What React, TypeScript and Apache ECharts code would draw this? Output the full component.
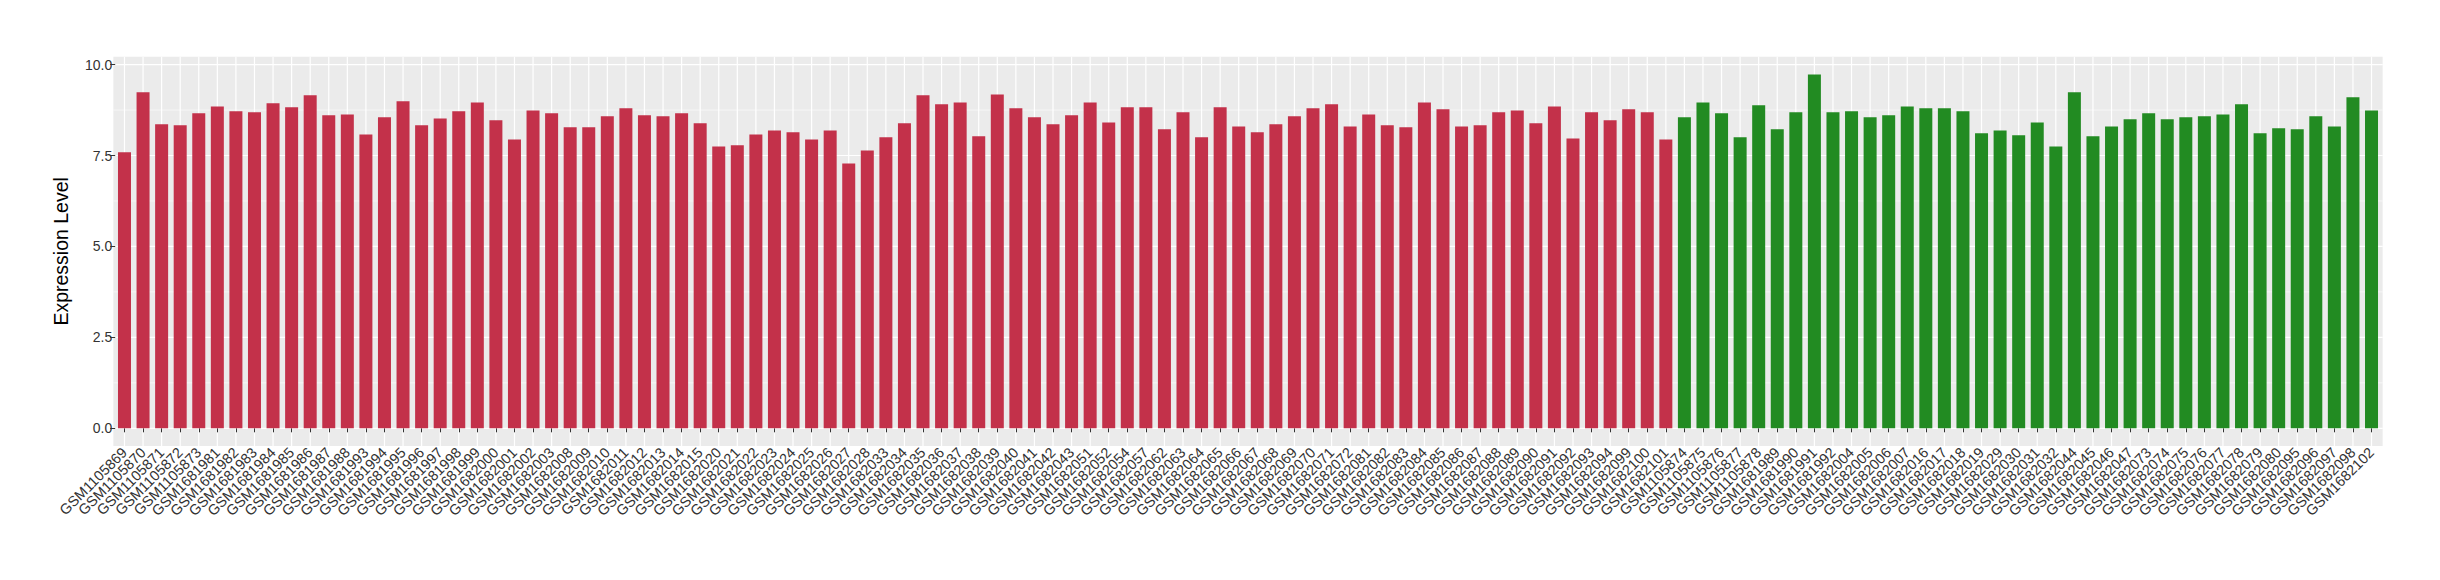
import React, { useEffect, useRef } from "react";
import * as echarts from "echarts";

const redSamples = [
  "GSM1105869","GSM1105870","GSM1105871","GSM1105872","GSM1105873","GSM1681981","GSM1681982","GSM1681983","GSM1681984","GSM1681985",
  "GSM1681986","GSM1681987","GSM1681988","GSM1681993","GSM1681994","GSM1681995","GSM1681996","GSM1681997","GSM1681998","GSM1681999",
  "GSM1682000","GSM1682001","GSM1682002","GSM1682003","GSM1682008","GSM1682009","GSM1682010","GSM1682011","GSM1682012","GSM1682013",
  "GSM1682014","GSM1682015","GSM1682020","GSM1682021","GSM1682022","GSM1682023","GSM1682024","GSM1682025","GSM1682026","GSM1682027",
  "GSM1682028","GSM1682033","GSM1682034","GSM1682035","GSM1682036","GSM1682037","GSM1682038","GSM1682039","GSM1682040","GSM1682041",
  "GSM1682042","GSM1682043","GSM1682051","GSM1682052","GSM1682054","GSM1682057","GSM1682062","GSM1682063","GSM1682064","GSM1682065",
  "GSM1682066","GSM1682067","GSM1682068","GSM1682069","GSM1682070","GSM1682071","GSM1682072","GSM1682081","GSM1682082","GSM1682083",
  "GSM1682084","GSM1682085","GSM1682086","GSM1682087","GSM1682088","GSM1682089","GSM1682090","GSM1682091","GSM1682092","GSM1682093",
  "GSM1682094","GSM1682099","GSM1682100","GSM1682101",
];

const redValues = [
  7.59, 9.24, 8.36, 8.33, 8.66, 8.85, 8.72, 8.69, 8.94, 8.83,
  9.16, 8.61, 8.63, 8.08, 8.55, 8.99, 8.33, 8.52, 8.72, 8.96,
  8.47, 7.94, 8.74, 8.66, 8.28, 8.28, 8.58, 8.80, 8.61, 8.58,
  8.66, 8.39, 7.75, 7.78, 8.08, 8.19, 8.14, 7.94, 8.19, 7.28,
  7.64, 8.00, 8.39, 9.16, 8.91, 8.96, 8.03, 9.18, 8.80, 8.55,
  8.36, 8.61, 8.96, 8.41, 8.83, 8.83, 8.22, 8.69, 8.00, 8.83,
  8.30, 8.14, 8.36, 8.58, 8.80, 8.91, 8.30, 8.63, 8.33, 8.28,
  8.96, 8.77, 8.30, 8.33, 8.69, 8.74, 8.39, 8.85, 7.97, 8.69,
  8.47, 8.77, 8.69, 7.94,
];

const greenSamples = [
  "GSM1105874","GSM1105875","GSM1105876","GSM1105877","GSM1105878","GSM1681989","GSM1681990","GSM1681991","GSM1681992","GSM1682004",
  "GSM1682005","GSM1682006","GSM1682007","GSM1682016","GSM1682017","GSM1682018","GSM1682019","GSM1682029","GSM1682030","GSM1682031",
  "GSM1682032","GSM1682044","GSM1682045","GSM1682046","GSM1682047","GSM1682073","GSM1682074","GSM1682075","GSM1682076","GSM1682077",
  "GSM1682078","GSM1682079","GSM1682080","GSM1682095","GSM1682096","GSM1682097","GSM1682098","GSM1682102",
];

const greenValues = [
  8.55, 8.96, 8.66, 8.00, 8.88, 8.22, 8.69, 9.73, 8.69, 8.72,
  8.55, 8.61, 8.85, 8.80, 8.80, 8.72, 8.11, 8.19, 8.06, 8.41,
  7.75, 9.24, 8.03, 8.30, 8.50, 8.66, 8.50, 8.55, 8.58, 8.63,
  8.91, 8.11, 8.25, 8.22, 8.58, 8.30, 9.10, 8.74,
];

const yTicks = [0, 2.5, 5, 7.5, 10];
const yMinorLines = [1.25, 3.75, 6.25, 8.75];

const RED = "#C3314A";
const GREEN = "#228B22";
const FONT = "'Liberation Sans', Arial, Helvetica, sans-serif";

export default function App() {
  const ref = useRef<HTMLDivElement>(null);

  useEffect(() => {
    if (!ref.current) return;
    const chart = echarts.init(ref.current, undefined, { renderer: "svg" });

    const categories = redSamples.concat(greenSamples);
    const barData = redValues
      .map((v) => ({ value: v, itemStyle: { color: RED } }))
      .concat(greenValues.map((v) => ({ value: v, itemStyle: { color: GREEN } })));
    const maxVal = Math.max(...redValues, ...greenValues);
    const yMin = -0.05 * maxVal;
    const yMax = 1.05 * maxVal;

    chart.setOption({
      animation: false,
      textStyle: { fontFamily: FONT },
      grid: { left: 115.2, right: 59.2, top: 56.7, bottom: 134 },
      xAxis: {
        type: "category",
        data: categories,
        axisLine: { show: false },
        axisTick: { show: true, alignWithLabel: true, interval: 0, length: 4, lineStyle: { color: "#333333", width: 1 } },
        axisLabel: { interval: 0, rotate: 45, margin: 4, fontSize: 14.5, color: "#333333", fontFamily: FONT },
        splitLine: { show: false },
      },
      yAxis: {
        type: "value",
        min: yMin,
        max: yMax,
        name: "Expression Level",
        nameLocation: "middle",
        nameRotate: 90,
        nameGap: 44,
        nameTextStyle: { fontSize: 19.5, color: "#000000", fontFamily: FONT },
        axisLine: { show: false },
        axisTick: { show: true, length: 5, customValues: yTicks, lineStyle: { color: "#333333", width: 1 } },
        axisLabel: {
          customValues: yTicks,
          margin: 3,
          fontSize: 14,
          color: "#333333",
          fontFamily: FONT,
          formatter: (v: number) => v.toFixed(1),
        },
        splitLine: { show: false },
      },
      series: [
        {
          type: "custom",
          z: 0,
          silent: true,
          clip: false,
          data: [[0, 0]],
          renderItem: (params: any, api: any) => {
            const cs = params.coordSys;
            const band = api.size([1, 0])[0];
            const x0 = cs.x - 0.1 * band;
            const x1 = cs.x + cs.width + 0.1 * band;
            const children: any[] = [
              { type: "rect", shape: { x: x0, y: cs.y, width: x1 - x0, height: cs.height }, style: { fill: "#EBEBEB" } },
            ];
            yMinorLines.forEach((v) => {
              const y = api.coord([0, v])[1];
              children.push({ type: "line", shape: { x1: x0, y1: y, x2: x1, y2: y }, style: { stroke: "#FFFFFF", lineWidth: 0.6 } });
            });
            yTicks.forEach((v) => {
              const y = api.coord([0, v])[1];
              children.push({ type: "line", shape: { x1: x0, y1: y, x2: x1, y2: y }, style: { stroke: "#FFFFFF", lineWidth: 1.2 } });
            });
            categories.forEach((_, i) => {
              const x = api.coord([i, 0])[0];
              children.push({ type: "line", shape: { x1: x, y1: cs.y, x2: x, y2: cs.y + cs.height }, style: { stroke: "#FFFFFF", lineWidth: 1.2 } });
            });
            return { type: "group", children };
          },
        },
        {
          type: "bar",
          z: 2,
          data: barData,
          barCategoryGap: "30%",
        },
      ],
    });

    return () => chart.dispose();
  }, []);

  return (
    <div
      ref={ref}
      style={{ position: "absolute", left: 0, top: 0, width: 2440, height: 580, background: "#FFFFFF" }}
    />
  );
}
